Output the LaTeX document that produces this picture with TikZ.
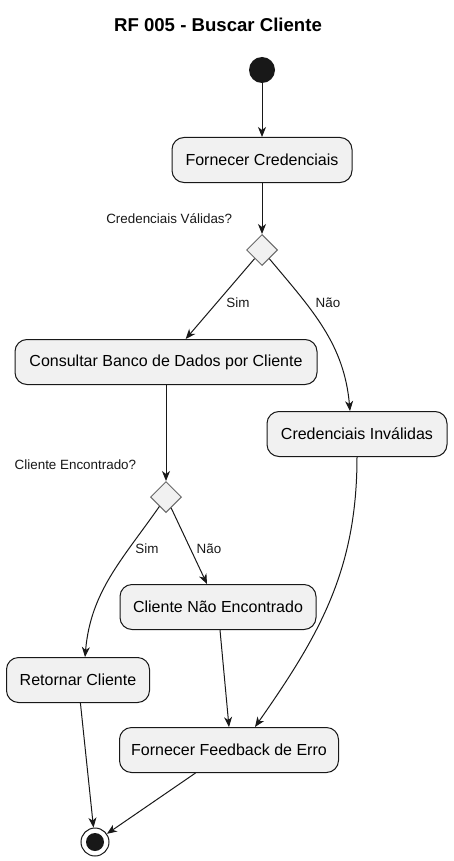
\documentclass[tikz,border=0pt]{standalone}
\usepackage{fontspec}
\setmainfont{Liberation Sans}
\usetikzlibrary{arrows.meta,shapes.geometric}
\definecolor{actfill}{HTML}{F1F1F1}
\definecolor{actline}{HTML}{181818}
\begin{document}
\begin{tikzpicture}[x=1pt, y=-1pt, line width=1pt, draw=actline,
  >={Stealth[length=10pt,width=8pt,inset=3pt]},
  act/.style={draw=actline, fill=actfill, rounded corners=12pt, minimum height=45pt, font=\fontsize{16}{18}\selectfont},
  branch/.style={draw=actline!65, fill=actfill, diamond, minimum size=31pt, inner sep=0pt},
  lbl/.style={font=\fontsize{13.4}{16}\selectfont, text=actline}]
\useasboundingbox (0,0) rectangle (454,861);

\node[font=\bfseries\fontsize{18.6}{20}\selectfont] (title) at (218,25) {RF 005 - Buscar Cliente};
\node[circle, fill=actline, minimum size=26pt, inner sep=0pt] (start) at (262,70) {};

\node[act, minimum width=180pt] (forn) at (262,160) {Fornecer Credenciais};
\node[branch] (d1) at (262,250) {};
\node[lbl, anchor=east] (q1) at (236,219) {Credenciais Válidas?};
\node[act, minimum width=302pt] (consult) at (166,362) {Consultar Banco de Dados por Cliente};
\node[act, minimum width=180pt] (credinv) at (357,434) {Credenciais Inválidas};
\node[branch] (d2) at (166,497) {};
\node[lbl, anchor=east] (q2) at (140,465) {Cliente Encontrado?};
\node[act, minimum width=196pt] (naoenc) at (218,607) {Cliente Não Encontrado};
\node[act, minimum width=143pt] (retornar) at (78,680) {Retornar Cliente};
\node[act, minimum width=219pt] (feedback) at (229,750) {Fornecer Feedback de Erro};
\node[circle, draw=actline, fill=white, minimum size=28pt, inner sep=0pt] (end) at (95,842) {};
\fill[actline] (end) circle (9pt);

\node[lbl] (sim1) at (238,303) {Sim};
\node[lbl] (nao1) at (328,303) {Não};
\node[lbl] (sim2) at (147,549) {Sim};
\node[lbl] (nao2) at (209,549) {Não};

\draw[->] (start) -- (forn);
\draw[->] (forn) -- (d1);
\draw[->] (d1) -- (consult);
\draw[->] (d1) to[out=-50, in=95] ([xshift=-7pt]credinv.north);
\draw[->] (consult) -- (d2);
\draw[->] (d2) to[out=-125, in=85] ([xshift=7pt]retornar.north);
\draw[->] (d2) -- ([xshift=-11pt]naoenc.north);
\draw[->] ([xshift=2pt]naoenc.south) -- (feedback.north);
\draw[->] (credinv.south) to[out=-90, in=55] ([xshift=26pt]feedback.north);
\draw[->] (retornar) -- (end);
\draw[->] (feedback) -- (end);
\end{tikzpicture}
\end{document}
